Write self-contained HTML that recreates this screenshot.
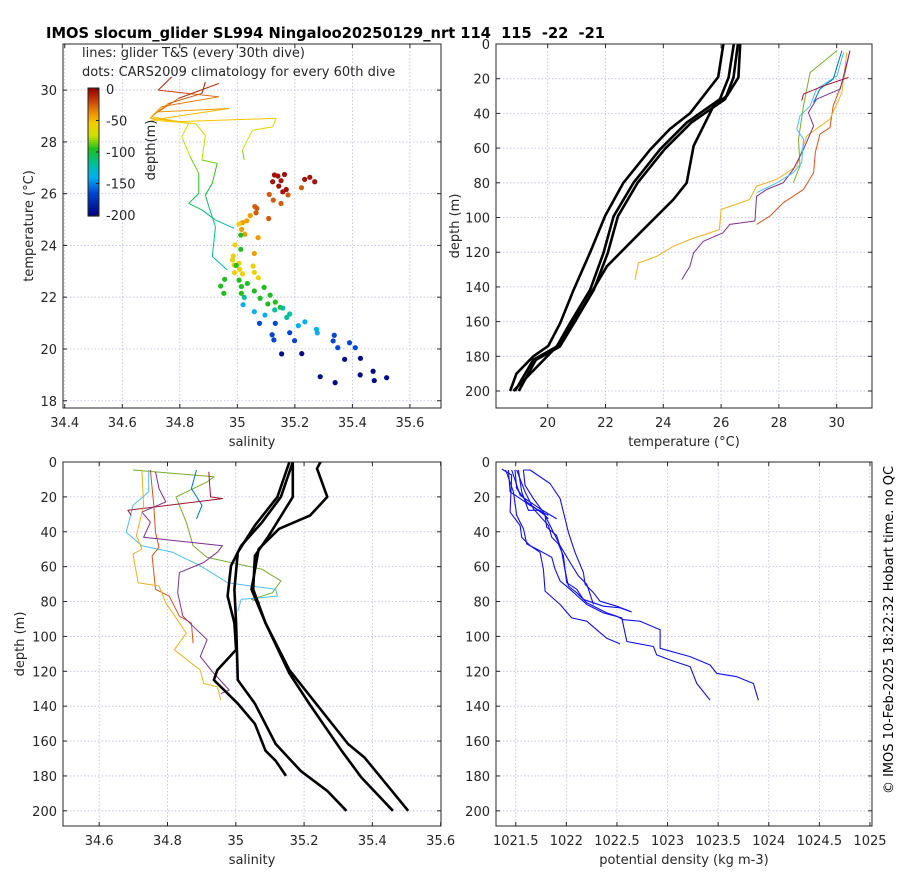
<!DOCTYPE html>
<html><head><meta charset="utf-8">
<style>
html,body{margin:0;padding:0;background:#fff;}
svg{display:block;font-family:"DejaVu Sans","Liberation Sans",sans-serif;}
text{white-space:pre;}
</style></head>
<body>
<svg id="chart" width="900" height="880" viewBox="0 0 900 880" xmlns="http://www.w3.org/2000/svg" xml:space="preserve">
<rect x="0" y="0" width="900" height="880" fill="#fff"/>
<text x="46" y="38" font-size="15" font-weight="bold" textLength="559" lengthAdjust="spacingAndGlyphs">IMOS slocum_glider SL994 Ningaloo20250129_nrt 114  115  -22  -21</text>
<text transform="translate(893,630) rotate(-90)" text-anchor="middle" font-size="13" textLength="328" lengthAdjust="spacingAndGlyphs">© IMOS 10-Feb-2025 18:22:32 Hobart time. no QC</text>
</svg>
<script>
// ---------- data: panel 1 (T-S) glider lines ----------
const g1S=[34.772,34.725,34.831,34.936,34.737,34.696,34.796,35.135,35.123,35.053,35.035,35.018,35.024];
const g1T=[30.51,30.0,29.87,29.74,29.36,28.91,28.78,28.91,28.58,28.45,28.07,27.68,27.3];
const g1D=[5,15,25,30,35,45,50,55,58,60,70,80,88];
const g2S=[34.889,34.877,34.76,34.702,34.831,34.807,34.836,34.866,34.866,34.831,34.877,34.924,34.989];
const g2T=[30.32,29.87,29.48,28.97,28.71,28.2,27.43,26.78,26.01,25.62,25.37,24.98,24.66];
const g2D=[5,15,30,45,55,65,80,92,100,105,110,120,130];
const g3S=[34.936,34.796,34.725,34.971,34.702,34.854,34.889,34.877,34.93,34.913,34.889,34.901,34.924,34.913,34.965];
const g3T=[30.26,29.68,29.16,29.29,28.84,28.71,28.26,27.3,27.17,26.4,25.95,25.5,24.72,23.57,23.05];
const g3D=[5,20,35,45,55,62,70,82,88,98,105,110,115,120,130];
// ---------- data: panel 1 climatology dots ----------
const dotS=[35.129,35.141,35.164,35.123,35.152,35.158,35.170,35.252,35.234,35.269,35.144,
35.223,35.176,35.111,35.125,35.152,35.061,35.068,35.065,35.109,
35.045,35.033,35.018,35.015,35.026,35.072,35.059,
35.006,34.992,34.986,34.983,35.006,35.055,34.989,35.008,35.018,35.059,35.073,34.990,
35.012,35.012,34.996,34.956,34.942,34.953,35.006,35.035,35.093,35.014,35.059,35.114,35.132,35.079,35.014,35.106,35.149,
35.024,35.130,35.158,35.172,35.182,
35.020,35.059,35.096,35.212,35.235,35.275,35.278,
35.077,35.132,35.182,35.121,35.127,35.199,35.337,35.333,35.390,35.349,35.410,
35.154,35.224,35.373,35.428,35.288,35.340,35.427,35.472,35.476,35.519];
const dotT=[26.72,26.68,26.74,26.46,26.50,26.07,26.16,26.63,26.55,26.46,26.29,
26.23,25.95,25.97,25.75,25.62,25.50,25.43,25.26,25.04,
25.15,24.95,24.88,24.62,24.43,24.30,23.69,
24.83,24.02,23.59,23.44,23.31,23.20,23.24,23.08,22.90,22.96,22.75,22.95,
24.40,23.85,23.23,22.69,22.43,22.15,22.66,22.53,22.38,22.41,22.24,22.08,21.81,21.96,22.15,21.74,21.61,
21.99,21.51,21.58,21.22,21.35,
21.71,21.44,21.31,20.90,21.05,20.76,20.62,
20.99,20.99,20.63,20.55,20.35,20.32,20.53,20.31,20.24,20.05,20.05,
19.81,19.82,19.60,19.64,18.93,18.70,19.00,19.14,18.78,18.89];
const dotD=[5,5,5,5,5,5,5,5,5,5,5,
25,25,25,25,25,25,25,25,25,
42,42,42,42,42,42,42,
60,60,60,60,60,60,60,60,60,60,60,60,
95,95,95,95,95,95,95,95,95,95,95,95,95,95,95,95,95,
120,120,120,120,120,
140,140,140,140,140,140,140,
165,165,165,165,165,165,165,165,165,165,165,
195,195,195,195,195,195,195,195,195,195];
// ---------- data: panel 2 (temperature vs depth) ----------
const cA_T=[26.08,25.9,24.92,24.23,23.54,22.62,21.99,21.47,20.89,20.43,20.02,19.5,18.92,18.7];
const cA_D=[0,19,40,49,61,80,99,120,142,161,174,180,190,200];
const cB_T=[26.44,26.26,25.96,24.81,23.89,22.97,22.28,21.93,21.47,20.77,20.31,19.5,18.87];
const cB_D=[0,19.3,31.8,45.3,60.7,80,99.3,120.4,141.6,160.9,174.4,182,200];
const cC_T=[26.58,26.43,26.14,24.97,24.04,23.11,22.43,22.08,21.6,20.91,20.42,19.59,19.0];
const cC_D=[0,19.3,31.8,45.3,60.7,80,99.3,120.4,141.6,160.9,174.4,182,200];
const cD_T=[26.66,26.6,26.2,25.74,25.05,24.81,24.35,23.19,22.05,21.23,20.31,18.81];
const cD_D=[0,19.3,29.9,35.6,58.8,80,89.6,108.9,128.1,151.3,174.4,200];
const tGreenT=[30.01,29.08,28.85,28.68,28.73,28.5];
const tGreenD=[3.8,16.4,35.6,54.9,70.3,80];
const tOrangeT=[30.46,30.24,29.88,29.77,29.42,29.26,29.2,28.85,28.15,27.69,27.23];
const tOrangeD=[3.8,20.2,35.6,48.2,52,62.6,74.2,83.8,91.5,99.2,104];
const tYellowT=[30.35,30.18,29.77,28.96,28.62,27.93,27.23,26.99,26.0,25.94,24.92,24.35,23.77,23.14,23.02];
const tYellowD=[4.8,28,43.3,53,70.3,78,81.9,89.6,95.4,107,112.7,116.6,122.4,126.2,135.8];
const tPurpleT=[30.46,30.12,29.3,29.02,29.2,28.85,28.5,28.15,27.58,27.23,27.17,26.3,26.06,25.38,25.05,24.92,24.64];
const tPurpleD=[3.8,26,31.8,39.5,47.2,60.7,72.2,80,83.8,87.7,102,104,108.9,113.7,120.4,128.1,135.8];
const tCyanT=[30.24,30.01,29.3,29.08,28.73,28.62,28.85,28.79,28.5,27.93,27.23];
const tCyanD=[4.8,18.3,26,35.6,41.4,49.1,54.9,68.4,74.2,80,85.7];
const tBlueT=[30.18,29.88,29.42,29.2];
const tBlueD=[3.8,20.2,26,33.7];
const tRedT=[30.41,29.55,28.85,28.79];
const tRedD=[19.3,24.1,28.9,32.7];
// ---------- data: panel 3 (salinity vs depth) ----------
const s1S=[35.167,35.132,35.077,35.016,34.986,34.976,34.996,35.001,34.946,34.936,35.006,35.056,35.087,35.117,35.147];
const s1D=[0,20,34.5,48,59.5,76.9,92.3,107.7,119.3,125,138.5,150.1,165.5,171.3,180];
const s2S=[35.157,35.122,35.056,35.006,34.996,35.001,35.006,35.056,35.117,35.19,35.268,35.324];
const s2D=[0,20,36.4,51.8,73,92.3,125,138.5,161.7,177.1,188.6,200];
const s3S=[35.167,35.167,35.097,35.056,35.051,35.087,35.157,35.215,35.31,35.368,35.46];
const s3D=[0,20,42.2,53.8,73,92.3,121.2,138.5,165.5,180.9,200];
const s4S=[35.248,35.238,35.268,35.218,35.127,35.067,35.046,35.087,35.157,35.235,35.329,35.377,35.505];
const s4D=[0,3.7,20,30.6,38.3,49.9,73,92.3,119.3,138.5,161.7,169.4,200];
const sGreenS=[34.699,34.936,34.916,34.825,34.855,34.875,34.916,35.077,35.132,35.107,35.046,35.072];
const sGreenD=[4.6,8.5,11.4,20,34.5,48,54.7,61.5,68.2,75,78.8,80.7];
const sCyanS=[34.745,34.745,34.699,34.679,34.725,34.815,34.896,34.976,35.117,35.122,35.016,35.006];
const sCyanD=[4.6,17.1,24.9,40.3,48,51.8,59.5,69.2,73,76.9,78.8,85.6];
const sBlueS=[34.885,34.870,34.901,34.885];
const sBlueD=[4.6,15.2,24.9,32.6];
const sRedS=[34.921,34.926,34.961,34.684,34.694];
const sRedD=[5.6,20,21,27.7,30.6];
const sOrangeS=[34.750,34.760,34.765,34.775,34.755,34.765,34.805,34.835,34.870,34.875];
const sOrangeD=[4.6,24.9,40.3,48.9,53.8,73,76.9,88.4,92.3,103.9];
const sPurpleS=[34.765,34.775,34.795,34.725,34.750,34.730,34.961,34.946,34.906,34.835,34.830,34.845,34.875,34.916,34.896,34.936,34.981,34.956];
const sPurpleD=[5.6,15.2,22.9,28.7,34.5,43.2,48,51.8,57.6,63.4,75,88.4,94.2,101.9,111.6,121.2,130.8,132.8];
const sYellowS=[34.725,34.730,34.709,34.725,34.699,34.714,34.775,34.795,34.855,34.820,34.896,34.906,34.946,34.956];
const sYellowD=[4.6,24.9,42.2,49.9,52.8,69.2,71.1,80.7,98.1,107.7,119.3,127,128.9,136.6];
// ---------- data: panel 4 (potential density vs depth) ----------
const r1=[1021.362,1021.460,1021.444,1021.543,1021.559,1021.642,1021.740,1021.773,1021.790,1021.938,1022.053,1022.202,1022.300,1022.399,1022.531];
const r1D=[4.0,7.5,28.7,36.4,43.2,48,51.8,61.5,74,81.7,89.4,91.3,96.2,101,104.3];
const r2=[1021.401,1021.477,1021.510,1021.576,1021.609,1021.740,1021.856,1021.889,1021.938,1022.037,1022.202,1022.366,1022.548,1022.597,1022.860,1022.893,1023.025,1023.223,1023.289,1023.420];
const r2D=[4.6,17.1,30.6,38.3,47,50.9,54.7,61.5,68.2,73,81.7,86.5,89.4,102.9,105.8,110.6,113.5,117.3,127,136.6];
const r3=[1021.493,1021.510,1021.609,1021.790,1021.806,1021.905,1021.955,1021.988,1022.020,1022.103,1022.202,1022.399,1022.498,1022.564,1022.729,1022.926,1022.926,1023.223,1023.420,1023.486,1023.684,1023.848,1023.898];
const r3D=[4.6,15.2,22.9,30.6,37.4,42.2,51.8,62.4,71.1,75,80.7,86.5,88.4,90.4,91.3,96.2,106.8,111.6,116.4,121.2,123.1,127,136.6];
const r4=[1021.526,1021.559,1021.625,1021.740,1021.823];
const r4D=[4.6,17.1,27.7,27.7,32.6];
const r5=[1021.460,1021.543,1021.740,1021.905];
const r5D=[4.6,19.1,26.8,32.6];
const r6=[1021.576,1021.642,1021.839,1021.938,1022.020,1022.086,1022.169,1022.185,1022.268,1022.333,1022.498,1022.646];
const r6D=[4.6,4.6,12.3,21,40.3,51.8,63.4,70.1,75,79.8,82.7,86];
const r7=[1021.510,1021.592,1021.675,1021.823,1021.856,1021.922,1021.971,1022.004,1022.103,1022.169,1022.268,1022.366,1022.531,1022.630];
const r7D=[4.6,17.1,26.8,36.4,43.2,47,53.8,69.2,73,78.8,80.7,82.7,83.6,85.6];
const r8=[1021.576,1021.592,1021.675,1021.773,1021.872,1021.938,1022.037,1022.119,1022.202,1022.268];
const r8D=[4.6,13.3,21,28.7,40.3,48,57.6,65.3,70.1,81.7];
const r9=[1021.428,1021.444,1021.543,1021.642,1021.823];
const r9D=[4.6,17.1,21,24.9,30.6];
// ---------- tick labels ----------
const p1XTicks=[34.4,34.6,34.8,35,35.2,35.4,35.6];
const p1YTicks=[18,20,22,24,26,28,30];
const p2XTicks=[20,22,24,26,28,30];
const depthTicks=[0,20,40,60,80,100,120,140,160,180,200];
const p3XTicks=[34.6,34.8,35,35.2,35.4,35.6];
const p4XTicks=[1021.5,1022,1022.5,1023,1023.5,1024,1024.5,1025];
const cbTicks=[0,-50,-100,-150,-200];

const NS='http://www.w3.org/2000/svg';
const svg=document.getElementById('chart');
function el(tag,parent,name,inter){
  const e=document.createElementNS(NS,tag);
  
  
  parent.appendChild(e);
  return e;
}
function setA(e,o){for(const k in o)e.setAttribute(k,o[k]);return e;}
function lin(d0,d1,r0,r1){return v=>r0+(v-d0)*(r1-r0)/(d1-d0);}
// colormap stops by depth (m)
const CM=[[0,[150,0,0]],[20,[200,70,15]],[40,[240,150,0]],[55,[245,205,0]],[75,[200,225,0]],[95,[30,190,30]],[120,[0,190,160]],[140,[0,175,240]],[165,[0,70,210]],[200,[0,0,128]]];
function depthColor(d){
  d=Math.max(0,Math.min(200,d));
  for(let i=0;i<CM.length-1;i++){
    if(d<=CM[i+1][0]){
      const f=(d-CM[i][0])/(CM[i+1][0]-CM[i][0]);
      const c=CM[i][1].map((v,k)=>Math.round(v+(CM[i+1][1][k]-v)*f));
      return 'rgb('+c.join(',')+')';
    }
  }
  return 'rgb(0,0,128)';
}

function makePanel(name,L,T,R,B,xd,yd,xt,yt,xFmt,yFmt,xlab,ylab,ylabX){
  const g=el('g',svg,name,false);
  const X=lin(xd[0],xd[1],L,R), Y=lin(yd[0],yd[1],T,B);
  const grid=el('g',g,name+'-grid',false);
  xt.forEach(v=>{const x=X(v); if(x<=L+1||x>=R-1)return;
    const l=el('line',grid,'x-gridline',false);
    setA(l,{x1:x,x2:x,y1:T,y2:B,stroke:'#b8bde0','stroke-width':0.8,'stroke-dasharray':'1.5,2'});});
  yt.forEach(v=>{const y=Y(v); if(y<=T+1||y>=B-1)return;
    const l=el('line',grid,'y-gridline',false);
    setA(l,{x1:L,x2:R,y1:y,y2:y,stroke:'#b8bde0','stroke-width':0.8,'stroke-dasharray':'1.5,2'});});
  const plot=el('g',g,name+'-plot-area',false);
  const axes=el('g',g,name+'-axes',false);
  const box=el('rect',axes,name+'-axes-box',false);
  setA(box,{x:L,y:T,width:R-L,height:B-T,fill:'none',stroke:'#262626','stroke-width':1});
  xt.forEach(v=>{const x=X(v);
    const t1=el('line',axes,'x-tick',false);
    setA(t1,{x1:x,x2:x,y1:B,y2:B-4,stroke:'#262626'});
    const t2=el('line',axes,'x-tick',false);
    setA(t2,{x1:x,x2:x,y1:T,y2:T+4,stroke:'#262626'});
    const tx=el('text',axes,'x-tick-label',false);
    setA(tx,{x:x,y:B+19,'text-anchor':'middle','font-size':13,fill:'#262626'});
    tx.textContent=xFmt(v);});
  yt.forEach(v=>{const y=Y(v);
    const t1=el('line',axes,'y-tick',false);
    setA(t1,{x1:L,x2:L+4,y1:y,y2:y,stroke:'#262626'});
    const t2=el('line',axes,'y-tick',false);
    setA(t2,{x1:R,x2:R-4,y1:y,y2:y,stroke:'#262626'});
    const tx=el('text',axes,'y-tick-label',false);
    setA(tx,{x:L-6,y:y+5,'text-anchor':'end','font-size':13,fill:'#262626'});
    tx.textContent=yFmt(v);});
  const xl=el('text',axes,name+'-x-axis-title',false);
  setA(xl,{x:(L+R)/2,y:B+38,'text-anchor':'middle','font-size':13,fill:'#262626'});
  xl.textContent=xlab;
  const yl=el('text',axes,name+'-y-axis-title',false);
  setA(yl,{transform:'translate('+ylabX+','+((T+B)/2)+') rotate(-90)','text-anchor':'middle','font-size':13,fill:'#262626'});
  yl.textContent=ylab;
  return {plot,X,Y,L,T,R,B};
}
function line(p,xs,ys,color,w,name){
  const pl=el('polyline',p.plot,name,false);
  setA(pl,{points:xs.map((v,i)=>p.X(v).toFixed(1)+','+p.Y(ys[i]).toFixed(1)).join(' '),fill:'none',stroke:color,'stroke-width':w,'stroke-linejoin':'round'});
}
function depthLine(p,xs,ys,ds,name){
  const g=el('g',p.plot,name,false);
  for(let i=0;i<xs.length-1;i++){
    const s=el('line',g,'profile-segment',false);
    setA(s,{x1:p.X(xs[i]),y1:p.Y(ys[i]),x2:p.X(xs[i+1]),y2:p.Y(ys[i+1]),stroke:depthColor((ds[i]+ds[i+1])/2),'stroke-width':1});
  }
}
const dfmt=v=>String(v);

// Panel 1
const p1=makePanel('ts-panel',63,44,441,408,[34.394,35.708],[31.78,17.72],p1XTicks,p1YTicks,
  v=>v.toFixed(1).replace(/\.0$/,''),dfmt,'salinity','temperature (°C)',33);
depthLine(p1,g1S,g1T,g1D,'glider-ts-line-1');
depthLine(p1,g2S,g2T,g2D,'glider-ts-line-2');
depthLine(p1,g3S,g3T,g3D,'glider-ts-line-3');
const dots=el('g',p1.plot,'climatology-dots',false);
dotS.forEach((s,i)=>{
  const c=el('circle',dots,'climatology-dot',false);
  setA(c,{cx:p1.X(s),cy:p1.Y(dotT[i]),r:2.6,fill:depthColor(dotD[i])});
});
// legend text
const lg=el('g',svg,'ts-legend-text',false);
const lt1=el('text',lg,'legend-lines-note',false);
setA(lt1,{x:82,y:57,'font-size':13,fill:'#262626'});
lt1.textContent='lines: glider T&S (every 30th dive)';
const lt2=el('text',lg,'legend-dots-note',false);
setA(lt2,{x:82,y:76,'font-size':13,fill:'#262626'});
lt2.textContent='dots: CARS2009 climatology for every 60th dive';
// colorbar
const cb=el('g',svg,'depth-colorbar',false);
const cbL=88,cbT=88,cbW=11,cbH=128;
for(let i=0;i<64;i++){
  const r=el('rect',cb,'colorbar-segment',false);
  setA(r,{x:cbL,y:cbT+i*cbH/64,width:cbW,height:cbH/64+0.6,fill:depthColor(i*200/63)});
}
const cbBox=el('rect',cb,'colorbar-box',false);
setA(cbBox,{x:cbL,y:cbT,width:cbW,height:cbH,fill:'none',stroke:'#262626','stroke-width':1});
const CY=lin(0,-200,cbT+1,cbT+cbH-1);
cbTicks.forEach(v=>{
  const t=el('line',cb,'colorbar-tick',false);
  setA(t,{x1:cbL+cbW-3,x2:cbL+cbW,y1:CY(v),y2:CY(v),stroke:'#262626'});
  const tx=el('text',cb,'colorbar-tick-label',false);
  setA(tx,{x:106,y:CY(v)+5,'font-size':13,fill:'#262626'});
  tx.textContent=String(v);
});
const cbl=el('text',cb,'colorbar-title',false);
setA(cbl,{transform:'translate(155,150) rotate(-90)','text-anchor':'middle','font-size':13,fill:'#262626'});
cbl.textContent='depth(m)';

// Panel 2
const p2=makePanel('temperature-panel',496,44,872,408,[18.211,31.222],[0,209.8],p2XTicks,depthTicks,
  dfmt,dfmt,'temperature (°C)','depth (m)',459);
line(p2,tGreenT,tGreenD,'#77AC30',1,'glider-temp-green');
line(p2,tOrangeT,tOrangeD,'#D95319',1,'glider-temp-orange');
line(p2,tYellowT,tYellowD,'#EDB120',1,'glider-temp-yellow');
line(p2,tPurpleT,tPurpleD,'#7E2F8E',1,'glider-temp-purple');
line(p2,tCyanT,tCyanD,'#4DBEEE',1,'glider-temp-cyan');
line(p2,tBlueT,tBlueD,'#0072BD',1,'glider-temp-blue');
line(p2,tRedT,tRedD,'#A2142F',1,'glider-temp-darkred');
line(p2,cA_T,cA_D,'#000',2.6,'clim-temp-line-a');
line(p2,cB_T,cB_D,'#000',2.6,'clim-temp-line-b');
line(p2,cC_T,cC_D,'#000',2.6,'clim-temp-line-c');
line(p2,cD_T,cD_D,'#000',2.6,'clim-temp-line-d');

// Panel 3
const p3=makePanel('salinity-panel',63,462,441,826,[34.494,35.601],[0,208.7],p3XTicks,depthTicks,
  v=>v.toFixed(1).replace(/\.0$/,''),dfmt,'salinity','depth (m)',24);
line(p3,sGreenS,sGreenD,'#77AC30',1,'glider-sal-green');
line(p3,sCyanS,sCyanD,'#4DBEEE',1,'glider-sal-cyan');
line(p3,sBlueS,sBlueD,'#0072BD',1,'glider-sal-blue');
line(p3,sRedS,sRedD,'#A2142F',1,'glider-sal-darkred');
line(p3,sOrangeS,sOrangeD,'#D95319',1,'glider-sal-orange');
line(p3,sPurpleS,sPurpleD,'#7E2F8E',1,'glider-sal-purple');
line(p3,sYellowS,sYellowD,'#EDB120',1,'glider-sal-yellow');
line(p3,s1S,s1D,'#000',2.6,'clim-sal-line-1');
line(p3,s2S,s2D,'#000',2.6,'clim-sal-line-2');
line(p3,s3S,s3D,'#000',2.6,'clim-sal-line-3');
line(p3,s4S,s4D,'#000',2.6,'clim-sal-line-4');

// Panel 4
const p4=makePanel('density-panel',496,462,872,826,[1021.305,1025.02],[0,208.7],p4XTicks,depthTicks,
  dfmt,dfmt,'potential density (kg m-3)','',459);
[[r1,r1D],[r2,r2D],[r3,r3D],[r4,r4D],[r5,r5D],[r6,r6D],[r7,r7D],[r8,r8D],[r9,r9D]].forEach((a,i)=>{
  line(p4,a[0],a[1],'#1010ee',1.1,'density-profile-'+(i+1));
});
</script>
</body></html>
